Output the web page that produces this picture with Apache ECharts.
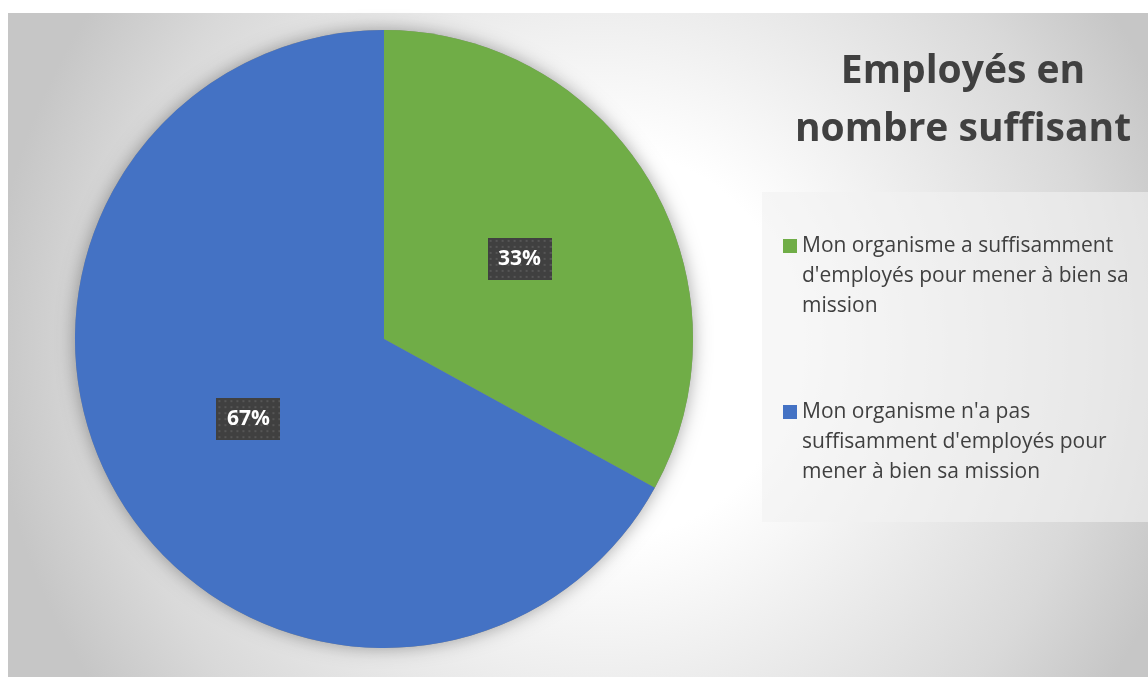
<!DOCTYPE html>
<html>
<head>
<meta charset="utf-8">
<script src="https://cdn.jsdelivr.net/npm/echarts@6/dist/echarts.min.js"></script>
<style>
html,body{margin:0;padding:0;background:#fff;}
#main{width:1148px;height:677px;}
</style>
</head>
<body>
<div id="main"></div>
<script>
// ---- data ----
const titleText = 'Employés en\nnombre suffisant';
const categories = [
  "Mon organisme a suffisamment d'employés pour mener à bien sa mission",
  "Mon organisme n'a pas suffisamment d'employés pour mener à bien sa mission"
];
const legendLines = [
  "Mon organisme a suffisamment\nd'employés pour mener à bien sa\nmission",
  "Mon organisme n'a pas\nsuffisamment d'employés pour\nmener à bien sa mission"
];
const values = [33, 67];
const colors = ['#70AD47', '#4472C4'];

// dotted dark label background
function makePattern(w, h) {
  const c = document.createElement('canvas');
  c.width = w; c.height = h;
  const ctx = c.getContext('2d');
  ctx.fillStyle = '#404040';
  ctx.fillRect(0, 0, w, h);
  ctx.fillStyle = '#565656';
  for (let y = 2; y < h; y += 6) {
    for (let x = 2; x < w; x += 6) {
      ctx.fillRect(x, y, 2, 2);
    }
  }
  return c;
}
const labelBg = makePattern(64, 42);

const chart = echarts.init(document.getElementById('main'));
const total = values.reduce((a, b) => a + b, 0);

const option = {
  backgroundColor: '#ffffff',
  animation: false,
  graphic: [
    {
      type: 'rect', z: -20, silent: true,
      shape: { x: 8, y: 13, width: 1140, height: 664 },
      style: {
        fill: {
          type: 'radial', x: 0.52, y: 0.5, r: 0.92,
          colorStops: [
            { offset: 0, color: '#ffffff' },
            { offset: 0.32, color: '#ffffff' },
            { offset: 0.82, color: '#d9d9d9' },
            { offset: 1, color: '#c6c6c6' }
          ]
        }
      }
    },
    {
      type: 'rect', z: -10, silent: true,
      shape: { x: 762, y: 192, width: 386, height: 330 },
      style: { fill: 'rgba(242,242,242,0.6)' }
    }
  ],
  title: {
    text: titleText,
    left: 958,
    top: 38,
    textAlign: 'center',
    textStyle: {
      fontFamily: 'Open Sans',
      fontWeight: 'bold',
      fontSize: 39,
      lineHeight: 58,
      color: '#404040'
    }
  },
  legend: {
    orient: 'vertical',
    left: 783,
    top: 171,
    padding: 0,
    itemWidth: 14,
    itemHeight: 14,
    itemGap: 16,
    icon: 'rect',
    data: categories,
    formatter: function (name) {
      return '\n\n' + legendLines[categories.indexOf(name)];
    },
    textStyle: {
      fontFamily: 'Open Sans',
      fontSize: 21,
      lineHeight: 30,
      color: '#404040'
    }
  },
  series: [
    {
      // shadow disc behind the pie
      type: 'pie',
      silent: true,
      z: 1,
      center: [384, 339],
      radius: 309,
      label: { show: false },
      labelLine: { show: false },
      itemStyle: {
        color: '#888',
        shadowBlur: 18,
        shadowColor: 'rgba(0,0,0,0.35)'
      },
      data: [{ name: '_all', value: total }]
    },
    {
      type: 'pie',
      z: 2,
      center: [384, 339],
      radius: 309,
      startAngle: 90,
      clockwise: true,
      color: colors,
      itemStyle: { borderWidth: 0 },
      label: {
        show: true,
        position: 'inside',
        formatter: '{c}%',
        color: '#ffffff',
        fontFamily: 'Open Sans',
        fontWeight: 'bold',
        fontSize: 21,
        width: 44,
        height: 24,
        lineHeight: 24,
        overflow: 'none',
        align: 'center',
        verticalAlign: 'middle',
        padding: [9, 10],
        backgroundColor: { image: labelBg },
        shadowColor: 'rgba(0,0,0,0.5)',
        shadowBlur: 6,
        shadowOffsetX: 3,
        shadowOffsetY: 3
      },
      labelLine: { show: false },
      data: categories.map((n, i) => ({ name: n, value: values[i] }))
    }
  ]
};
chart.setOption(option);
</script>
</body>
</html>
